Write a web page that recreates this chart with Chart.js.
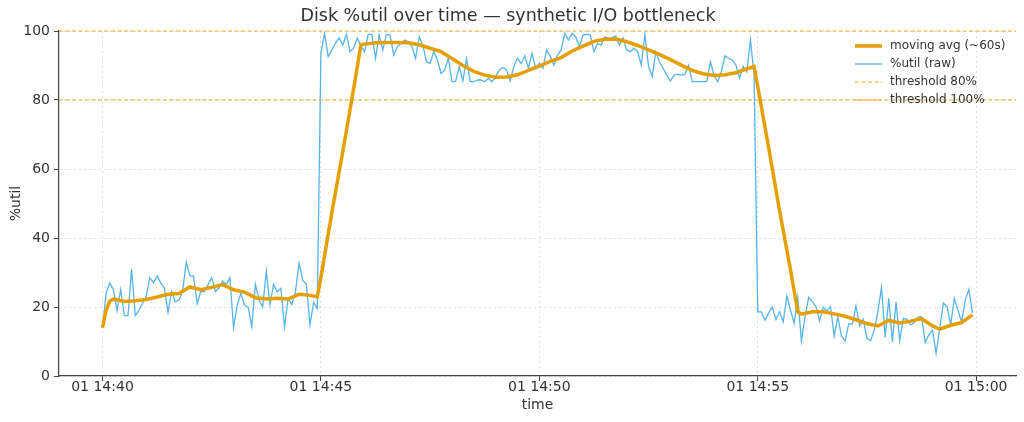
<!DOCTYPE html>
<html>
<head>
<meta charset="utf-8">
<script src="https://cdn.jsdelivr.net/npm/chart.js@4.4.1/dist/chart.umd.min.js"></script>
<style>
  html, body { margin: 0; padding: 0; background: #fff; }
  #wrap { width: 1024px; height: 422px; }
</style>
</head>
<body>
<div id="wrap"><canvas id="utilChart" width="1024" height="422"></canvas></div>
<script>
// one sample every 5 s, starting at 01 14:40:00
const sampleStep = 5;

// %util (raw)
const rawUtil = [
  14, 24, 27, 25, 19, 25, 17.5, 17.5, 31, 17.5,
  19, 21, 23, 28.5, 27, 29, 27, 25.5, 18.5, 24.5,
  21.5, 22, 24.5, 33, 29, 29, 21, 24.5, 24.5, 26.5,
  28.5, 24.5, 25.5, 27.5, 26.5, 28.5, 14, 20.5, 24, 20.5,
  20, 14.3, 26.6, 22, 20, 30.4, 20.7, 26.6, 24.4, 25.4,
  14.3, 22.5, 20.7, 24.4, 32.7, 27.8, 26.6, 14.8, 21.4, 19.6,
  93.5, 99.3, 92.6, 94.5, 96.4, 98, 95.9, 99, 94, 95,
  97.9, 95.7, 94, 99, 99, 92.1, 98.8, 94.5, 99, 98.8,
  93, 95.5, 96.4, 97.4, 96.9, 95.5, 92.1, 98.3, 95.9, 91.1,
  90.6, 94, 91.6, 87.7, 88.7, 92.1, 85.3, 85.3, 89.7, 85.5,
  92, 85.3, 85.3, 85.8, 85.8, 85.3, 86.3, 85.3, 86.8, 88.7,
  89.4, 88.7, 85.5, 89.7, 92.1, 90.6, 92.8, 89.2, 93.5, 89.2,
  90.6, 89.2, 94.5, 92.6, 90.1, 93, 94.5, 99.3, 97.4, 99.3,
  98.3, 95.5, 98.8, 99, 98.8, 94, 96.4, 95.9, 98.3, 97.9,
  98, 98.6, 95.9, 98, 94.5, 94, 95, 94, 90.1, 99,
  89.7, 86.8, 94, 91.1, 89.2, 87.2, 85.5, 87.2, 87.4, 87.2,
  87.4, 90.1, 85.3, 85.3, 85.3, 85.3, 85.3, 91.1, 87.2, 85.3,
  88.2, 92.8, 92.1, 91.6, 90.1, 86.3, 89.7, 88.2, 97.4, 87,
  18.6, 18.6, 16.2, 18.3, 19.9, 16.4, 18.6, 15.7, 23.2, 19.1,
  15.3, 22.8, 10.2, 17.2, 22.8, 21.5, 20.1, 16, 19.9, 18.9,
  20.1, 11.6, 17.2, 11.6, 10.2, 15.1, 15.1, 20.3, 14.5, 16.4,
  10.9, 10.2, 13.3, 18.6, 25.7, 11.2, 22.5, 9.9, 21.5, 10.2,
  16.7, 16.4, 14.8, 15.5, 17.1, 17.2, 9.7, 11.9, 13.3, 6.6,
  13.8, 21.1, 20.1, 14.8, 22.5, 19.1, 15.7, 22, 25.1, 18.2
];

// moving avg (~60s) at these sample numbers
const avgSample = [
  0, 1, 2, 3, 6, 9, 12, 15, 18, 21, 24, 27, 30, 33, 36, 39, 42, 45, 48, 51, 54, 57, 59,
  60, 63, 66, 69, 71, 72, 75, 78, 81, 84, 87, 90, 93, 96, 99, 102, 105, 108, 111, 114,
  117, 120, 123, 126, 129, 132, 135, 138, 141, 144, 147, 150, 153, 156, 159, 162, 165,
  168, 171, 174, 177, 179, 180, 183, 186, 189, 191, 192, 195, 198, 201, 204, 207, 210,
  213, 216, 219, 222, 225, 228, 230, 233, 236, 239
];
const avgUtil = [
  14, 19, 21.7, 22.3, 21.6, 21.8, 22.2, 22.9, 23.7, 23.9, 25.8, 25.0, 25.7, 26.5, 25.0, 24.3, 22.7, 22.3, 22.5, 22.3, 23.7, 23.4, 22.9,
  28.6, 47.3, 65.0, 83.3, 96.0, 96.2, 96.6, 96.7, 96.7, 96.6, 96.0, 95.0, 94.0, 92.0, 90.0, 88.3, 87.2, 86.6, 86.7, 87.3,
  88.6, 89.8, 91.2, 92.3, 94.2, 95.6, 97.0, 97.6, 97.7, 96.9, 95.8, 94.5, 93.2, 91.7, 90.1, 88.6, 87.6,
  87.1, 87.3, 87.9, 89.0, 89.7, 83.9, 66.2, 47.9, 30.8, 18.6, 17.9, 18.6, 18.6, 18.0, 17.3, 16.3, 15.2,
  14.5, 16.1, 15.4, 15.9, 16.6, 14.5, 13.6, 14.7, 15.5, 17.7
];

const thresholds = [80, 100];
const thresholdLabels = ['threshold 80%', 'threshold 100%'];

// x ticks in seconds after 14:40:00
const xTickSec = [0, 300, 600, 900, 1200];
const xTickLabels = ['01 14:40', '01 14:45', '01 14:50', '01 14:55', '01 15:00'];
const yTicks = [0, 20, 40, 60, 80, 100];

const ORANGE = '#E69F00';
const BLUE = '#56B4E9';
const FONT = '"DejaVu Sans", "Liberation Sans", sans-serif';

const rawPoints = rawUtil.map((v, i) => ({ x: i * sampleStep, y: v }));
const avgPoints = avgSample.map((s, i) => ({ x: s * sampleStep, y: avgUtil[i] }));

// matplotlib-like 5% x margin
const span = (rawUtil.length - 1) * sampleStep;
const xMin = -span * 0.05;
const xMax = span * 1.05;

const thresholdSets = thresholds.map((t, k) => ({
    label: thresholdLabels[k],
    data: [{ x: xMin, y: t }, { x: xMax, y: t }],
    borderColor: '#EEA92A',
    borderWidth: 1.2,
    borderDash: [4, 2.5],
    pointRadius: 0,
    clip: 3,
    order: 5
}));

// legend drawn inside the plot, no frame
const innerLegend = {
    id: 'innerLegend',
    afterDatasetsDraw(chart) {
        const { ctx, chartArea } = chart;
        const x0 = chartArea.right - 161;
        let y = chartArea.top + 15;
        ctx.save();
        ctx.font = '12px ' + FONT;
        ctx.textBaseline = 'middle';
        ctx.textAlign = 'left';
        chart.data.datasets.forEach(ds => {
            ctx.beginPath();
            ctx.setLineDash(ds.borderDash || []);
            ctx.lineWidth = ds.borderWidth;
            ctx.strokeStyle = ds.borderColor;
            ctx.moveTo(x0, y);
            ctx.lineTo(x0 + 27, y);
            ctx.stroke();
            ctx.setLineDash([]);
            ctx.fillStyle = '#333';
            ctx.fillText(ds.label, x0 + 35, y);
            y += 18;
        });
        ctx.restore();
    }
};

const ctx = document.getElementById('utilChart').getContext('2d');
new Chart(ctx, {
    type: 'line',
    data: {
        datasets: [
            {
                label: 'moving avg (~60s)',
                data: avgPoints,
                borderColor: ORANGE,
                borderWidth: 3.5,
                pointRadius: 0,
                tension: 0,
                order: 0
            },
            {
                label: '%util (raw)',
                data: rawPoints,
                borderColor: BLUE,
                borderWidth: 1.3,
                pointRadius: 0,
                tension: 0,
                order: 1
            },
            ...thresholdSets
        ]
    },
    options: {
        responsive: false,
        animation: false,
        layout: { padding: { right: 8 } },
        plugins: {
            legend: { display: false },
            tooltip: { enabled: false },
            title: {
                display: true,
                text: 'Disk %util over time — synthetic I/O bottleneck',
                color: '#333',
                font: { family: FONT, size: 17.5, weight: 'normal' },
                padding: { top: 6, bottom: 4 }
            }
        },
        scales: {
            x: {
                type: 'linear',
                min: xMin,
                max: xMax,
                afterBuildTicks: s => { s.ticks = xTickSec.map(v => ({ value: v })); },
                afterFit: s => { s.height = 46; },
                ticks: {
                    autoSkip: false,
                    maxRotation: 0,
                    padding: -2,
                    color: '#333',
                    font: { family: FONT, size: 14 },
                    callback: v => xTickLabels[xTickSec.indexOf(v)]
                },
                grid: {
                    color: 'rgba(0,0,0,0.13)',
                    tickColor: '#444',
                    tickLength: 5,
                    lineWidth: 1
                },
                border: { display: true, color: '#444', width: 1.2, dash: [2, 3] },
                title: {
                    display: true,
                    text: 'time',
                    color: '#333',
                    font: { family: FONT, size: 14 },
                    padding: { top: 0, bottom: 8 }
                }
            },
            y: {
                min: 0,
                max: 100,
                afterBuildTicks: s => { s.ticks = yTicks.map(v => ({ value: v })); },
                afterFit: s => { s.width = 59; },
                ticks: {
                    padding: 4,
                    color: '#333',
                    font: { family: FONT, size: 14 }
                },
                grid: {
                    color: 'rgba(0,0,0,0.13)',
                    tickColor: '#444',
                    tickLength: 5,
                    lineWidth: 1
                },
                border: { display: true, color: '#444', width: 1.2, dash: [2, 3] },
                title: {
                    display: true,
                    text: '%util',
                    color: '#333',
                    font: { family: FONT, size: 14 },
                    padding: { top: 8, bottom: 0 }
                }
            }
        }
    },
    plugins: [innerLegend]
});
</script>
</body>
</html>
